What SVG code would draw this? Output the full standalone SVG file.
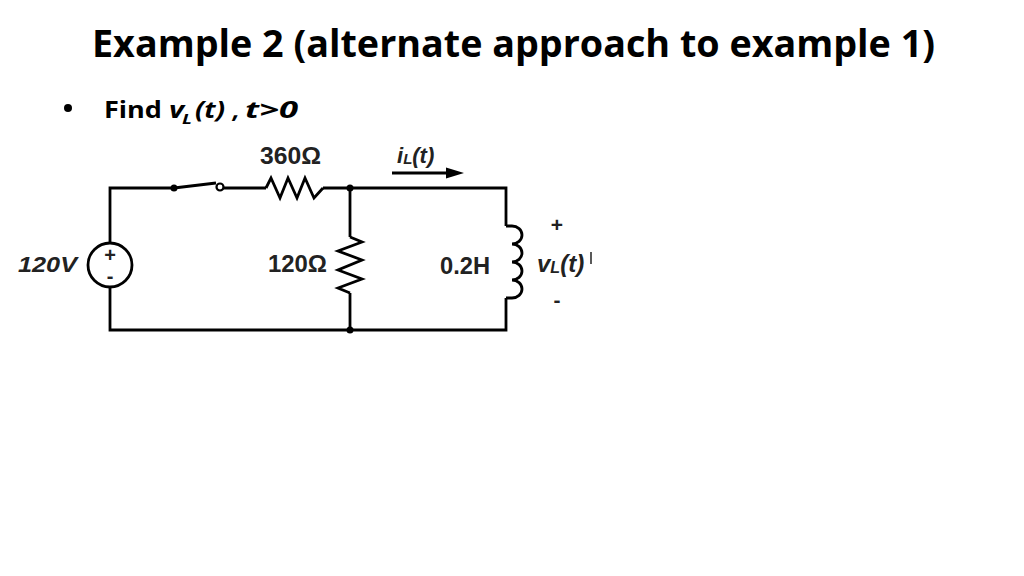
<svg xmlns="http://www.w3.org/2000/svg" width="1024" height="576" viewBox="0 0 1024 576">
<style>
.w{fill:none;stroke:#000;stroke-width:2.8;stroke-linejoin:miter;stroke-linecap:butt}
.t{font-family:"Open Sans","Liberation Sans",sans-serif;font-weight:bold;fill:#000}
.c{font-family:"Liberation Sans",Arial,sans-serif;font-weight:bold;fill:#222}
.i{font-style:italic}
.dot{fill:#000}
</style>
<rect width="1024" height="576" fill="#fff"/>
<g id="title"><text class="t" x="92" y="57" font-size="38" textLength="843" lengthAdjust="spacingAndGlyphs">Example 2 (alternate approach to example 1)</text></g>
<g id="bullet">
<circle cx="68" cy="108" r="4" class="dot"/>
<text class="t" x="104" y="118" font-size="24" textLength="58" lengthAdjust="spacingAndGlyphs">Find</text>
<text class="t i" x="169" y="118" font-size="24" textLength="15" lengthAdjust="spacingAndGlyphs">v</text>
<text class="t i" x="182" y="124" font-size="15" textLength="10" lengthAdjust="spacingAndGlyphs">L</text>
<text class="t i" x="195" y="118" font-size="24" textLength="30" lengthAdjust="spacingAndGlyphs">(t)</text>
<text class="t i" x="233" y="118" font-size="24">,</text>
<text class="t i" x="245" y="118" font-size="24" textLength="53" lengthAdjust="spacingAndGlyphs">t&gt;0</text>
</g>
<g id="connectors">
<path class="w" d="M110,243 V188 H174"/>
<path class="w" d="M110,287 V330 H506 V298"/>
<path class="w" d="M223,188 H266"/>
<path class="w" d="M323,188 H506 V226"/>
<path class="w" d="M350,188 V237"/>
<path class="w" d="M350,293 V330"/>
</g>
<g id="source">
<circle cx="110" cy="265" r="22" class="w"/>
<text class="c" x="110" y="262" font-size="20" text-anchor="middle">+</text>
<text class="c" x="110" y="283" font-size="20" text-anchor="middle">-</text>
<text class="c i" x="18" y="272" font-size="22" textLength="59" lengthAdjust="spacingAndGlyphs">120V</text>
</g>
<g id="switch">
<circle cx="174" cy="188" r="3.5" class="dot"/>
<path class="w" d="M174,188 L216,183"/>
<circle cx="220" cy="187" r="3.5" fill="#fff" stroke="#000" stroke-width="2.2"/>
</g>
<g id="r360">
<path class="w" d="M266,188 L271,178 L280,198 L288,178 L297,198 L305,178 L314,198 L323,188"/>
<text class="c" x="260" y="164" font-size="23" textLength="61" lengthAdjust="spacingAndGlyphs">360Ω</text>
</g>
<g id="r120">
<path class="w" d="M350,237 L362,242 L338,251 L362,260 L338,270 L362,279 L338,288 L350,293"/>
<text class="c" x="268" y="272" font-size="23" textLength="59" lengthAdjust="spacingAndGlyphs">120Ω</text>
</g>
<g id="nodes">
<circle cx="350" cy="188" r="3.5" class="dot"/>
<circle cx="350" cy="330" r="3.5" class="dot"/>
</g>
<g id="inductor">
<path class="w" d="M506,226 H512 A10,9 0 0 1 512,244 A10,9 0 0 1 512,262 A10,9 0 0 1 512,280 A10,9 0 0 1 512,298 H506"/>
<text class="c" x="440" y="274" font-size="23" textLength="50" lengthAdjust="spacingAndGlyphs">0.2H</text>
<text class="c" x="557" y="232" font-size="21" text-anchor="middle">+</text>
<text class="c" x="557" y="307" font-size="21" text-anchor="middle">-</text>
<text class="c i" x="537" y="272" font-size="24">v<tspan font-size="16" dy="1">L</tspan><tspan dy="-1">(t)</tspan></text>
<path d="M591,252 V264" stroke="#000" stroke-width="1.3"/>
</g>
<g id="current">
<path class="w" d="M392,173 H450" stroke-width="2"/>
<polygon points="446,167.5 464,173 446,178.5" class="dot"/>
<text class="c i" x="397" y="163" font-size="22">i<tspan font-size="15" dy="1">L</tspan><tspan dy="-1">(t)</tspan></text>
</g>
</svg>
